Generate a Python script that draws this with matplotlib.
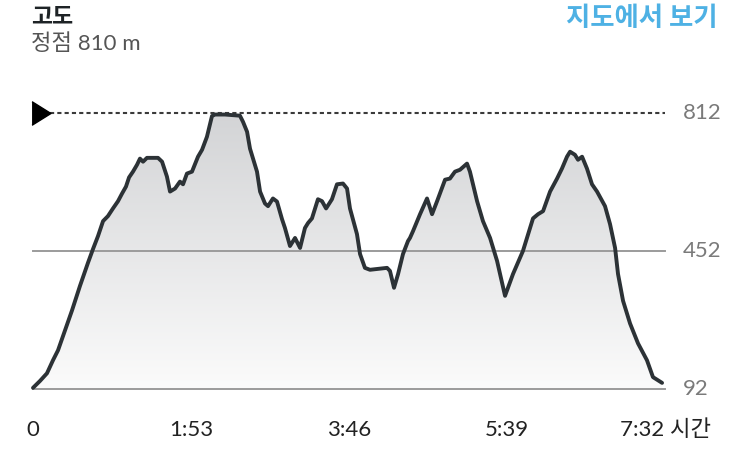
import numpy as np
import matplotlib
matplotlib.use("Agg")
import matplotlib.pyplot as plt
from matplotlib.colors import LinearSegmentedColormap

plt.rcParams['font.family'] = ['Lato', 'Noto Sans CJK KR', 'DejaVu Sans']

# elapsed time in minutes, elevation in metres
minutes = [0, 5.0, 10.0, 14.3, 17.9, 22.9, 27.9, 33.6, 39.3, 42.9, 46.5, 50.1, 53.6, 57.2,
           60.8, 63.7, 66.5, 68.7, 71.5, 74.4, 76.5, 78.7, 81.5, 89.4, 92.3, 95.8, 98.0,
           101.6, 105.1, 107.3, 110.1, 113.7, 118.0, 120.9, 124.4, 128.0, 130.2, 137.3,
           148.0, 150.2, 153.1, 155.2, 160.2, 162.4, 165.9, 168.1, 171.6, 174.5, 178.1,
           180.2, 183.8, 187.4, 191.0, 194.5, 196.7, 199.5, 203.8, 206.7, 209.6, 213.8,
           217.4, 221.7, 224.6, 226.7, 231.7, 233.9, 237.4, 241.0, 253.2, 255.3, 258.2,
           261.1, 264.6, 268.2, 269.6, 271.8, 276.8, 281.8, 285.4, 289.0, 294.7, 298.2,
           301.8, 305.4, 310.4, 312.5, 317.6, 319.7, 321.8, 326.9, 331.9, 337.6, 343.3,
           350.4, 357.6, 361.2, 364.8, 369.8, 374.8, 378.3, 381.9, 384.1, 387.6, 389.8,
           392.7, 396.2, 399.8, 403.4, 409.1, 412.7, 416.3, 418.4, 422.0, 427.0, 432.7,
           439.1, 443.4, 449.9]
elevation = [95, 113, 133, 167, 193, 245, 297, 361, 421, 457, 491, 530, 543, 563,
             582, 602, 620, 644, 659, 677, 693, 685, 695, 695, 685, 646, 607,
             615, 633, 626, 654, 659, 698, 716, 750, 804, 808, 808,
             805, 789, 763, 719, 659, 607, 576, 569, 589, 581, 535,
             512, 465, 486, 460, 512, 525, 537, 587, 582, 563, 587,
             626, 628, 615, 563, 496, 444, 408, 403, 408, 400, 356,
             392, 444, 478, 486, 504, 548, 589, 548, 582, 638, 641,
             659, 664, 680, 659, 582, 556, 530, 486, 426, 335, 392,
             452, 537, 548, 556, 607, 641, 667, 698, 711, 703, 690,
             698, 667, 626, 607, 569, 522, 460, 392, 322, 263, 211,
             167, 123, 108]

y_ticks = [92, 452, 812]
x_ticks = [0, 113, 226, 339, 452]
x_labels = ['0', '1:53', '3:46', '5:39', '7:32 시간']
peak = 810

W, H = 750, 459
fig = plt.figure(figsize=(W / 100, H / 100), dpi=100)
ax = fig.add_axes([33 / W, 1 - 389 / H, (665 - 33) / W, (389 - 113) / H])
ax.set_xlim(0, 452)
ax.set_ylim(92, 812)
ax.axis('off')

# gradient fill under the profile
poly = ax.fill_between(minutes, elevation, 92, color='none', lw=0)
cmap = LinearSegmentedColormap.from_list('g', ['#fbfbfb', '#d3d4d6'])
grad = np.linspace(0, 1, 256).reshape(-1, 1)
img = ax.imshow(grad, cmap=cmap, aspect='auto', origin='lower',
                extent=[0, 452, 92, 812], zorder=1)
img.set_clip_path(poly.get_paths()[0], transform=ax.transData)

# grid lines
for v in y_ticks[:2]:
    ax.axhline(v, color='#9b9b9b', lw=1.4, zorder=2, clip_on=False)
ax.plot([12, 452], [812, 812], color='#3a3a3a', lw=1.5, dashes=(2, 1.5),
        zorder=2, clip_on=False)
ax.plot([5.4], [812], marker=[(-0.4, 0.5), (0.4, 0), (-0.4, -0.5)], ms=17,
        color='black', clip_on=False, zorder=4)

ax.plot(minutes, elevation, color='#2c3236', lw=2.8, zorder=3,
        solid_joinstyle='round', solid_capstyle='round', clip_on=False)

# right-hand value labels
for v in y_ticks:
    ax.text(1.028, (v - 92) / 720, str(v), transform=ax.transAxes,
            ha='left', va='center', fontsize=16, color='#7a7a7a')

xt = ax.get_xaxis_transform()
for t, lab in zip(x_ticks, x_labels):
    ax.text(t, -41 / 276, lab, transform=xt, ha='center', va='center',
            fontsize=16, color='#222222', clip_on=False)

fig.text(31 / W, 1 - 17 / H, '고도', fontsize=16.5, fontweight='bold',
         color='#1e2326', ha='left', va='center',
         family=['Noto Sans CJK KR', 'DejaVu Sans'])
fig.text(31 / W, 1 - 44 / H, f'정점 {peak} m', fontsize=16, color='#555555',
         ha='left', va='center')
fig.text(718 / W, 1 - 19 / H, '지도에서 보기', fontsize=19, fontweight='bold',
         color='#4eb1e4', ha='right', va='center',
         family=['Noto Sans CJK KR', 'DejaVu Sans'])

fig.savefig('out.png', dpi=100)
